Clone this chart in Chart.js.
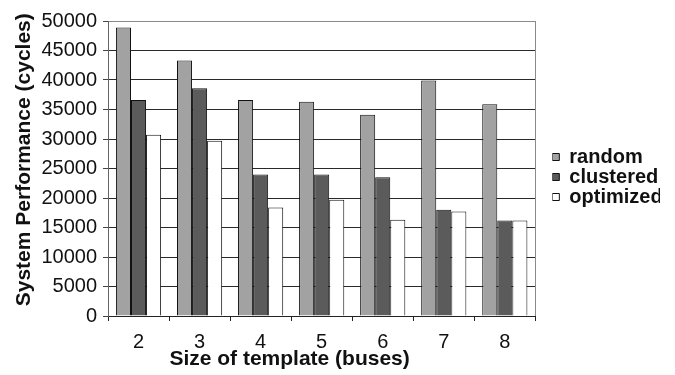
<!DOCTYPE html>
<html>
<head>
<meta charset="utf-8">
<script src="https://cdn.jsdelivr.net/npm/chart.js@4/dist/chart.umd.min.js"></script>
<style>
  body { margin: 0; background: #fff; }
  #wrap { width: 675px; height: 375px; }
</style>
</head>
<body>
<div id="wrap"><canvas id="perfChart" width="675" height="375"></canvas></div>
<script>
// chart data
const templateSizes = ['2', '3', '4', '5', '6', '7', '8'];
const randomCycles = [48900, 43300, 36600, 36300, 34100, 39900, 35900];
const clusteredCycles = [36600, 38600, 24000, 24000, 23500, 18000, 16200];
const optimizedCycles = [30700, 29700, 18400, 19700, 16300, 17700, 16200];
const yTickValues = [0, 5000, 10000, 15000, 20000, 25000, 30000, 35000, 40000, 45000, 50000];

const fontFamily = '"Liberation Sans", Arial, Helvetica, sans-serif';

// grey frame on the right side of the plot
const frameLines = {
    id: 'frameLines',
    beforeDatasetsDraw: (chart) => {
        const ctx = chart.ctx;
        const area = chart.chartArea;
        ctx.save();
        ctx.strokeStyle = '#8a8a8a';
        ctx.lineWidth = 1;
        ctx.beginPath();
        ctx.moveTo(Math.round(area.right) + 0.5, area.top);
        ctx.lineTo(Math.round(area.right) + 0.5, area.bottom);
        ctx.stroke();
        ctx.restore();
    }
};

const ctx = document.getElementById('perfChart').getContext('2d');

const perfChart = new Chart(ctx, {
    type: 'bar',
    data: {
        labels: templateSizes,
        datasets: [{
            label: 'random',
            data: randomCycles,
            backgroundColor: '#a2a2a2',
            borderColor: '#111',
            borderWidth: 1
        }, {
            label: 'clustered',
            data: clusteredCycles,
            backgroundColor: '#5b5b5b',
            borderColor: '#111',
            borderWidth: 1
        }, {
            label: 'optimized',
            data: optimizedCycles,
            backgroundColor: '#ffffff',
            borderColor: '#111',
            borderWidth: 1
        }]
    },
    options: {
        responsive: false,
        animation: false,
        devicePixelRatio: 1,
        layout: {
            padding: {top: 21, left: 14, right: 15, bottom: 5}
        },
        datasets: {
            bar: {
                categoryPercentage: 0.74,
                barPercentage: 1.0
            }
        },
        scales: {
            x: {
                afterFit: (scale) => { scale.height = 54; },
                grid: {
                    offset: true,
                    drawOnChartArea: false,
                    drawTicks: true,
                    tickLength: 5,
                    color: '#222'
                },
                border: {color: '#222', width: 1},
                ticks: {
                    color: '#111',
                    padding: 11,
                    font: {family: fontFamily, size: 20, lineHeight: 1}
                },
                title: {
                    display: true,
                    // trailing spaces pull the centred title to the left, as in the original
                    text: 'Size of template (buses)' + ' '.repeat(11),
                    color: '#111',
                    padding: {top: 0, bottom: 0},
                    font: {family: fontFamily, size: 21, weight: 'bold', lineHeight: 1}
                }
            },
            y: {
                min: 0,
                max: 50000,
                afterFit: (scale) => { scale.width = 94; },
                afterBuildTicks: (scale) => {
                    scale.ticks = yTickValues.map(v => ({value: v}));
                },
                grid: {
                    drawTicks: true,
                    tickLength: 5,
                    tickColor: '#444',
                    color: (c) => (c.tick && c.tick.value === 50000) ? '#8a8a8a' : '#2a2a2a'
                },
                border: {color: '#666', width: 1},
                ticks: {
                    color: '#111',
                    padding: 6,
                    callback: (value) => String(value),
                    font: {family: fontFamily, size: 20, lineHeight: 1}
                },
                title: {
                    display: true,
                    text: ' '.repeat(3) + 'System Performance (cycles)',
                    color: '#111',
                    padding: {top: 0, bottom: 0},
                    font: {family: fontFamily, size: 21, weight: 'bold', lineHeight: 1}
                }
            },
            // spacer between plot and legend
            gap: {
                type: 'linear',
                position: 'right',
                display: true,
                grid: {display: false, drawTicks: false},
                border: {display: false},
                ticks: {display: false},
                afterFit: (scale) => { scale.width = 17; }
            }
        },
        plugins: {
            legend: {
                display: true,
                position: 'right',
                align: 'center',
                fullSize: false,
                title: {
                    display: true,
                    text: '',
                    padding: {top: 0, bottom: 7},
                    font: {size: 10, lineHeight: 1}
                },
                labels: {
                    boxWidth: 7,
                    boxHeight: 7,
                    padding: 0,
                    color: '#111',
                    font: {family: fontFamily, size: 20, weight: 'bold', lineHeight: 1}
                }
            },
            tooltip: {enabled: false}
        }
    },
    plugins: [frameLines]
});
</script>
</body>
</html>
